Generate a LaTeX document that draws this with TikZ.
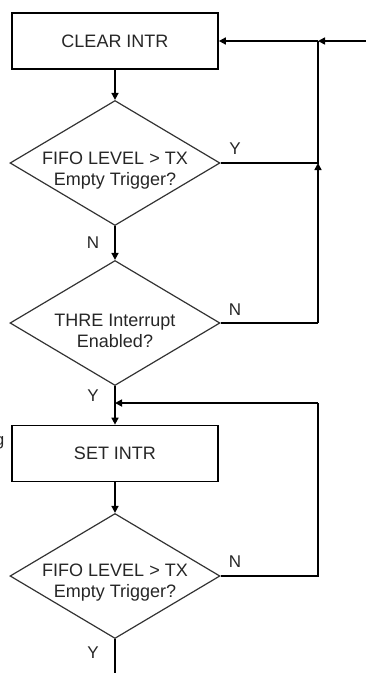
\documentclass[tikz,border=0pt]{standalone}
\usepackage{fontspec}
\setmainfont{Liberation Sans}
\usetikzlibrary{shapes.geometric,arrows.meta}
\begin{document}
\begin{tikzpicture}[x=1pt,y=-1pt,
  txt/.style={font=\fontsize{18}{21}\selectfont, text=black!85, inner sep=0pt},
  lbl/.style={font=\fontsize{17}{20}\selectfont, text=black!85, inner sep=0pt},
  procbox/.style={draw=black, line width=1.7pt, minimum width=206pt, minimum height=56pt, inner sep=0pt, txt},
  decision/.style={diamond, draw=black!80, line width=1.2pt, minimum width=210pt, minimum height=125pt, inner sep=0pt},
  conn/.style={draw=black, line width=1.6pt},
  arr/.style={conn, -{Triangle[length=7pt,width=7pt]}}
]
\useasboundingbox (0,0) rectangle (366,673);

% nodes
\node[procbox] (c1) at (115,41) {CLEAR INTR};
\node[decision] (d1) at (115,163) {};
\node[txt, align=center] (t1) at (115,171) {FIFO LEVEL > TX\\Empty Trigger?};
\node[decision] (d2) at (115,323) {};
\node[txt, align=center] (t2) at (115,331) {THRE Interrupt\\Enabled?};
\node[procbox] (s1) at (115,453.5) {SET INTR};
\node[decision] (d3) at (115,576) {};
\node[txt, align=center] (t3) at (115,582.5) {FIFO LEVEL > TX\\Empty Trigger?};

% junction coordinates
\coordinate (in) at (366,41);
\coordinate (j0) at (318,41);
\coordinate (j1) at (318,163);
\coordinate (j2) at (318,323);
\coordinate (j3) at (115,403);
\coordinate (j4) at (318,403);
\coordinate (j5) at (318,576);
\coordinate (out) at (115,673);

% connectors
\draw[arr] (in) -- (j0);
\draw[arr] (j0) -- (c1.east);
\draw[arr] (c1.south) -- (d1.north);
\draw[conn] (d1.east) -- (j1) -- (j0);
\draw[arr] (d1.south) -- (d2.north);
\draw[conn] (d2.east) -- (j2);
\draw[arr] (j2) -- (j1);
\draw[conn] (d2.south) -- (j3);
\draw[arr] (j3) -- (s1.north);
\draw[conn] (d3.east) -- (j5) -- (j4);
\draw[arr] (j4) -- (j3);
\draw[arr] (s1.south) -- (d3.north);
\draw[conn] (d3.south) -- (out);

% labels
\node[lbl] (y1) at (235,149) {Y};
\node[lbl] (n1) at (93,243) {N};
\node[lbl] (n2) at (235,310) {N};
\node[lbl] (y2) at (93,396) {Y};
\node[lbl] (n3) at (235,562) {N};
\node[lbl] (y3) at (93,653) {Y};
\node[lbl, anchor=base east] (g1) at (4.5,445) {g};
\end{tikzpicture}
\end{document}
